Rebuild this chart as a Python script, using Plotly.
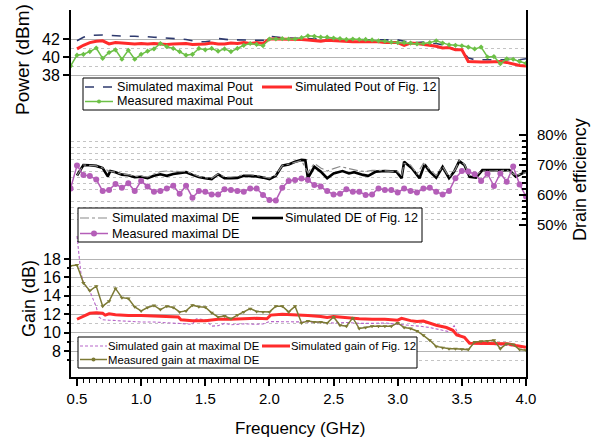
import plotly.graph_objects as go

# ---------------- data ----------------
F_MEAS = [0.45, 0.50, 0.55, 0.60, 0.65, 0.70, 0.75, 0.80, 0.85, 0.90, 0.95, 1.00,
          1.05, 1.10, 1.15, 1.20, 1.25, 1.30, 1.35, 1.40, 1.45, 1.50, 1.55, 1.60,
          1.65, 1.70, 1.75, 1.80, 1.85, 1.90, 1.95, 2.00, 2.05, 2.10, 2.15, 2.20,
          2.25, 2.30, 2.35, 2.40, 2.45, 2.50, 2.55, 2.60, 2.65, 2.70, 2.75, 2.80,
          2.85, 2.90, 2.95, 3.00, 3.05, 3.10, 3.15, 3.20, 3.25, 3.30, 3.35, 3.40,
          3.45, 3.50, 3.55, 3.60, 3.65, 3.70, 3.75, 3.80, 3.85, 3.90, 3.95, 4.00]

POUT_MEAS = [39.0, 40.2, 40.3, 40.6, 41.0, 39.85, 40.5, 40.8, 39.75, 40.75,
             39.75, 40.3, 40.65, 40.9, 41.5, 41.15, 40.95, 40.6, 40.2, 40.3,
             40.95, 40.8, 40.95, 40.65, 40.9, 40.6, 40.95, 41.3, 41.5, 41.4,
             41.25, 42.0, 42.0, 42.05, 42.0, 42.0, 42.15, 42.35, 42.3, 42.2,
             42.2, 42.1, 42.05, 41.95, 42.0, 41.95, 41.95, 41.9, 41.8, 41.75,
             41.65, 41.6, 41.6, 41.55, 41.45, 41.5, 41.6, 41.8, 41.55, 41.35,
             41.3, 41.25, 41.1, 40.9, 41.1, 40.0, 40.05, 39.25, 39.8, 39.75,
             39.5, 39.3]

F_SIM = [0.50, 0.55, 0.60, 0.65, 0.70, 0.75, 0.80, 0.85, 0.90, 0.95, 1.00,
         1.05, 1.10, 1.15, 1.20, 1.25, 1.30, 1.35, 1.40, 1.45, 1.50, 1.55, 1.60,
         1.65, 1.70, 1.75, 1.80, 1.85, 1.90, 1.95, 2.00, 2.05, 2.10, 2.15, 2.20,
         2.25, 2.30, 2.35, 2.40, 2.45, 2.50, 2.55, 2.60, 2.65, 2.70, 2.75, 2.80,
         2.85, 2.90, 2.95, 3.00, 3.05, 3.10, 3.15, 3.20, 3.25, 3.30, 3.35, 3.40,
         3.45, 3.50, 3.55, 3.60, 3.65, 3.70, 3.75, 3.80, 3.85, 3.90, 3.95, 4.00]

POUT_SIM_MAX = [41.8, 42.2, 42.4, 42.45, 42.45, 42.4, 42.35, 42.3, 42.3, 42.3,
                42.3, 42.25, 42.2, 42.15, 42.1, 42.05, 42.05, 41.95, 41.8, 41.7,
                41.7, 41.8, 42.05, 41.95, 41.9, 41.9, 41.9, 41.9, 41.85, 41.85,
                42.3, 42.2, 42.15, 42.1, 42.1, 42.1, 42.05, 42.0, 42.05, 42.0,
                41.95, 41.9, 41.9, 41.9, 41.95, 41.9, 41.9, 41.85, 41.85, 41.85,
                41.9, 41.75, 41.7, 41.6, 41.65, 41.5, 41.5, 41.35, 41.1, 40.85,
                40.75, 39.9, 39.7, 39.7, 39.75, 39.7, 39.7, 39.75, 39.7, 39.7,
                39.8]

POUT_SIM_FIG12 = [40.9, 41.3, 41.6, 41.75, 41.8, 41.45, 41.6, 41.55, 41.5, 41.45,
                  41.5, 41.45, 41.5, 41.45, 41.4, 41.45, 41.45, 41.5, 41.4, 41.4,
                  41.45, 41.55, 41.45, 41.45, 41.55, 41.5, 41.6, 41.5, 41.6, 41.5,
                  42.0, 42.0, 42.0, 41.95, 42.0, 41.95, 41.9, 41.85, 41.75, 41.85,
                  41.8, 41.8, 41.75, 41.7, 41.7, 41.7, 41.65, 41.7, 41.6, 41.6,
                  41.6, 41.3, 41.55, 41.5, 41.4, 41.35, 41.2, 41.0, 41.05, 40.8,
                  40.8, 39.5, 39.45, 39.45, 39.45, 39.45, 39.5, 39.4, 39.2, 39.05,
                  39.0]

DE_MEAS = [62.2, 69.8, 66.7, 66.3, 65.2, 61.3, 61.7, 63.7, 62.4, 63.9,
           61.3, 64.7, 62.8, 61.1, 61.3, 62.2, 63.1, 60.4, 63.1, 59.1,
           61.3, 61.1, 60.2, 60.2, 61.9, 61.7, 61.3, 61.1, 62.2, 62.2,
           60.0, 58.3, 58.2, 62.4, 64.7, 65.0, 65.5, 65.0, 63.3, 62.8,
           61.3, 60.2, 60.4, 61.9, 61.1, 61.1, 60.0, 60.2, 62.2, 61.7,
           61.7, 60.8, 62.2, 61.3, 60.8, 62.2, 62.4, 61.1, 60.2, 61.3,
           65.6, 68.0, 67.8, 66.9, 64.7, 67.1, 63.0, 67.2, 64.4, 69.5,
           63.5, 59.5]

F_DE_FIG12 = [0.50, 0.55, 0.60, 0.65, 0.70, 0.72, 0.74, 0.76, 0.80, 0.85, 0.90,
              0.95, 1.00, 1.05, 1.10, 1.15, 1.20, 1.25, 1.30, 1.35, 1.40, 1.45,
              1.50, 1.55, 1.60, 1.65, 1.70, 1.75, 1.80, 1.85, 1.90, 1.95, 2.00,
              2.05, 2.10, 2.15, 2.20, 2.25, 2.28, 2.30, 2.35, 2.40, 2.45, 2.50,
              2.57, 2.62, 2.66, 2.73, 2.77, 2.83, 2.90, 2.99, 3.03, 3.05, 3.11,
              3.17, 3.21, 3.25, 3.30, 3.35, 3.40, 3.44, 3.48, 3.52, 3.56, 3.61,
              3.66, 3.75, 3.87, 3.92, 4.00]
DE_FIG12 = [66.5, 70.0, 69.9, 69.7, 69.0, 67.6, 66.2, 68.0, 67.6, 66.8, 66.6,
            65.9, 66.1, 65.6, 66.4, 66.9, 66.4, 67.0, 67.4, 67.6, 66.7, 66.0,
            65.6, 65.3, 66.9, 65.6, 65.6, 65.7, 66.4, 66.4, 66.2, 65.8, 65.3,
            66.4, 69.8, 70.2, 71.1, 71.7, 71.6, 65.6, 69.4, 67.8, 65.6, 67.2,
            68.0, 67.2, 67.6, 66.7, 66.4, 67.8, 68.0, 67.8, 65.6, 71.1, 68.9,
            65.6, 70.2, 67.8, 65.8, 69.4, 65.6, 67.8, 71.3, 70.0, 66.1, 65.8,
            68.3, 68.3, 68.3, 66.1, 67.8]

F_DE_SIMMAX = [0.50, 0.55, 0.60, 0.65, 0.70, 0.75, 0.80, 0.85, 0.90, 0.95, 1.00,
               1.05, 1.10, 1.15, 1.20, 1.25, 1.30, 1.35, 1.40, 1.45, 1.50, 1.55,
               1.60, 1.65, 1.70, 1.75, 1.80, 1.85, 1.90, 1.95, 2.00, 2.05, 2.10,
               2.15, 2.20, 2.25, 2.30, 2.35, 2.40, 2.45, 2.50, 2.55, 2.60, 2.65,
               2.70, 2.75, 2.80, 2.85, 2.90, 2.95, 3.00, 3.03, 3.05, 3.10, 3.15,
               3.20, 3.25, 3.30, 3.35, 3.40, 3.45, 3.48, 3.52, 3.56, 3.60, 3.65,
               3.75, 3.85, 3.92, 4.00]
DE_SIMMAX = [66.5, 70.0, 69.9, 69.7, 69.0, 68.0, 67.6, 66.9, 66.8, 66.2, 66.3,
             66.0, 67.0, 67.8, 68.0, 67.8, 67.8, 67.9, 67.0, 66.2, 65.8, 65.6,
             67.0, 66.0, 66.0, 66.2, 66.8, 66.8, 66.5, 66.0, 65.6, 66.6, 69.8,
             70.3, 71.0, 71.5, 67.5, 70.5, 69.0, 68.0, 68.8, 69.5, 69.0, 68.5,
             68.0, 67.8, 68.2, 68.2, 68.0, 68.0, 67.8, 66.5, 70.5, 70.0, 67.0,
             70.5, 68.5, 66.5, 69.5, 66.0, 68.5, 71.6, 70.2, 66.5, 66.2, 68.0,
             68.0, 68.3, 66.5, 67.5]

GAIN_MEAS = [17.25, 17.35, 15.4, 14.55, 15.05, 12.87, 13.4, 14.8, 13.8, 13.7,
             12.8, 12.36, 12.73, 12.95, 12.5, 12.87, 12.73, 12.25, 12.36, 12.98,
             12.8, 12.75, 12.15, 11.7, 11.8, 11.5, 11.9, 12.25, 12.6, 12.3,
             12.25, 12.25, 12.87, 12.87, 12.25, 12.87, 11.05, 11.27, 11.16, 11.16,
             11.05, 11.7, 10.8, 10.7, 11.6, 10.44, 10.55, 10.7, 10.7, 10.7,
             10.7, 11.05, 10.55, 10.44, 10.18, 9.7, 9.16, 8.5, 8.36, 8.25,
             8.25, 8.2, 8.15, 8.98, 9.05, 9.1, 9.16, 8.25, 8.8, 8.7,
             8.15, 8.07]

F_GAIN_SIMMAX = [0.50, 0.53, 0.55, 0.58, 0.60, 0.63, 0.65, 0.67, 0.70, 0.75, 0.80,
                 0.85, 0.90, 1.00, 1.10, 1.20, 1.30, 1.35, 1.40, 1.43, 1.50, 1.55,
                 1.60, 1.65, 1.70, 1.80, 1.90, 1.95, 2.00, 2.10, 2.20, 2.30, 2.40,
                 2.50, 2.60, 2.70, 2.80, 2.90, 3.00, 3.10, 3.17, 3.25, 3.35, 3.40,
                 3.44, 3.47, 3.52, 3.57, 3.65, 3.75, 3.85, 3.95, 4.00]
GAIN_SIMMAX = [20.5, 16.5, 15.5, 14.8, 14.5, 13.5, 12.8, 11.7, 11.4, 11.35, 11.3,
               11.25, 11.2, 11.15, 11.15, 11.1, 11.05, 10.95, 10.9, 11.5, 11.4, 10.7,
               10.75, 11.0, 10.85, 10.95, 10.9, 10.95, 11.2, 11.2, 11.15, 11.15, 11.1,
               11.05, 11.1, 11.0, 11.0, 11.05, 10.9, 10.8, 10.7, 10.55, 10.3, 10.1,
               10.75, 9.9, 9.4, 8.9, 8.7, 8.7, 8.6, 8.5, 8.4]

F_GAIN_FIG12 = [0.50, 0.55, 0.60, 0.65, 0.70, 0.72, 0.75, 0.80, 0.90, 1.00, 1.10,
                1.20, 1.25, 1.29, 1.31, 1.40, 1.50, 1.60, 1.70, 1.80, 1.90, 1.98,
                2.01, 2.10, 2.20, 2.30, 2.40, 2.45, 2.50, 2.60, 2.70, 2.80, 2.90,
                3.00, 3.03, 3.10, 3.15, 3.20, 3.30, 3.38, 3.43, 3.46, 3.52, 3.56,
                3.65, 3.75, 3.85, 3.92, 3.97, 4.00]
GAIN_FIG12 = [11.45, 11.8, 12.1, 12.15, 12.1, 11.9, 12.05, 11.95, 11.85, 11.85, 11.8,
              11.8, 11.75, 11.7, 11.4, 11.3, 11.3, 11.45, 11.45, 11.5, 11.55, 11.5,
              11.9, 12.0, 11.95, 11.85, 11.75, 11.65, 11.75, 11.6, 11.5, 11.45, 11.45,
              11.35, 11.55, 11.3, 11.2, 11.25, 10.8, 10.55, 10.25, 9.75, 9.5, 8.85,
              8.85, 8.85, 8.8, 8.6, 8.45, 8.4]

X_TICKS = [0.5, 1.0, 1.5, 2.0, 2.5, 3.0, 3.5, 4.0]
POWER_TICKS = [38, 40, 42]
DE_TICKS = [50, 60, 70, 80]
GAIN_TICKS = [8, 10, 12, 14, 16, 18]

# ---------------- geometry helpers ----------------
W, H = 599, 439
ML, MR, MT, MB = 71, 73, 10, 62
PW, PH = W - ML - MR, H - MT - MB
BOT = H - MB


def px(x):
    return (x - ML) / PW


def py(y):
    return (BOT - y) / PH


FONT = "Liberation Sans, Arial, sans-serif"
NAVY = "#2e3a6e"
RED = "#ff2b2b"
GREEN = "#6cc046"
GREY = "#8a8a8a"
PURPLE = "#b45eb8"
PURPLE_L = "#b766c9"
OLIVE = "#7c7a35"
GRID = "#b3b3b3"
GRID_DOT = "#c4c4c4"

fig = go.Figure()

# Power panel
fig.add_trace(go.Scatter(x=F_SIM, y=POUT_SIM_MAX, mode="lines", yaxis="y",
                         line=dict(color=NAVY, width=1.6, dash="dash")))
fig.add_trace(go.Scatter(x=F_SIM, y=POUT_SIM_FIG12, mode="lines", yaxis="y",
                         line=dict(color=RED, width=3)))
fig.add_trace(go.Scatter(x=F_MEAS, y=POUT_MEAS, mode="lines+markers", yaxis="y",
                         line=dict(color=GREEN, width=1.5),
                         marker=dict(symbol="diamond", size=4, color=GREEN)))
# DE panel
fig.add_trace(go.Scatter(x=F_DE_FIG12, y=DE_FIG12, mode="lines", yaxis="y2",
                         line=dict(color="black", width=2.6)))
fig.add_trace(go.Scatter(x=F_DE_SIMMAX, y=DE_SIMMAX, mode="lines", yaxis="y2",
                         line=dict(color=GREY, width=1.2, dash="dashdot")))
fig.add_trace(go.Scatter(x=F_MEAS, y=DE_MEAS, mode="lines+markers", yaxis="y2",
                         line=dict(color=PURPLE, width=1.5),
                         marker=dict(symbol="circle", size=6, color=PURPLE)))
# Gain panel
fig.add_trace(go.Scatter(x=F_GAIN_SIMMAX, y=GAIN_SIMMAX, mode="lines", yaxis="y3",
                         line=dict(color=PURPLE_L, width=1.1, dash="3px,2px")))
fig.add_trace(go.Scatter(x=F_GAIN_FIG12, y=GAIN_FIG12, mode="lines", yaxis="y3",
                         line=dict(color=RED, width=3)))
fig.add_trace(go.Scatter(x=F_MEAS, y=GAIN_MEAS, mode="lines+markers", yaxis="y3",
                         line=dict(color=OLIVE, width=1.5),
                         marker=dict(symbol="triangle-down", size=4, color=OLIVE)))

# axis ranges derived from the pixel geometry of the figure
X0 = 0.5 - 6 / (449 / 3.5)
P_RANGE = [38 - (BOT - 75) / 9.0, 42 + (39 - MT) / 9.0]
D_RANGE = [70 - (BOT - 165) / 3.0, 70 + (165 - MT) / 3.0]
G_RANGE = [8 - (BOT - 351) / 9.2, 18 + (259 - MT) / 9.2]

x_minor = [round(0.45 + 0.05 * i, 2) for i in range(72)]
x_minor = [v for v in x_minor if v not in X_TICKS and v > X0]

fig.update_layout(
    width=W, height=H, showlegend=False,
    margin=dict(l=ML, r=MR, t=MT, b=MB, pad=0),
    paper_bgcolor="white", plot_bgcolor="white",
    font=dict(family=FONT, size=15, color="black"),
    xaxis=dict(range=[X0, 4.0], tickmode="array", tickvals=X_TICKS,
               ticktext=[f"{v:.1f}" for v in X_TICKS],
               ticks="outside", ticklen=7, tickwidth=1.5, tickcolor="black",
               showline=True, linecolor="black", linewidth=2, showgrid=False,
               zeroline=False, tickfont=dict(size=15),
               minor=dict(tickmode="array", tickvals=x_minor, ticks="outside",
                          ticklen=4, tickcolor="black", tickwidth=1, showgrid=False)),
    yaxis=dict(range=P_RANGE, tickmode="array", tickvals=POWER_TICKS,
               ticks="outside", ticklen=6, tickwidth=1.5, tickcolor="black",
               showline=True, linecolor="black", linewidth=2,
               showgrid=True, gridcolor=GRID, gridwidth=1, zeroline=False,
               tickfont=dict(size=16),
               minor=dict(tickmode="array", tickvals=[39, 41], ticks="",
                          showgrid=True, gridcolor=GRID_DOT, griddash="dot")),
    yaxis2=dict(range=D_RANGE, overlaying="y", side="right", anchor="x",
                tickmode="array", tickvals=DE_TICKS,
                ticktext=[f"{v}%" for v in DE_TICKS],
                ticks="inside", ticklen=7, tickwidth=1.5, tickcolor="black",
                ticklabelstandoff=6,
                showline=True, linecolor="black", linewidth=2,
                showgrid=False, zeroline=False, tickfont=dict(size=15),
                minor=dict(tickmode="array",
                           tickvals=[v for v in range(52, 80, 2) if v not in DE_TICKS],
                           ticks="inside", ticklen=4, tickcolor="black",
                           showgrid=True, gridcolor=GRID_DOT, griddash="dot")),
    yaxis4=dict(range=D_RANGE, overlaying="y", side="right", anchor="x",
                tickmode="array", tickvals=[60, 70, 80], showticklabels=False,
                ticks="", showline=False, showgrid=True, gridcolor=GRID,
                gridwidth=1, zeroline=False,
                minor=dict(tickmode="array", tickvals=list(range(51, 80, 2)),
                           ticks="inside", ticklen=3, tickcolor="black",
                           showgrid=False)),
    yaxis5=dict(range=D_RANGE, overlaying="y", side="left", anchor="x",
                tickmode="array", tickvals=[69], showticklabels=False,
                ticks="outside", ticklen=5, tickwidth=1.5, tickcolor="black",
                showline=False, showgrid=False, zeroline=False),
    yaxis3=dict(range=G_RANGE, overlaying="y", side="left", anchor="x",
                tickmode="array", tickvals=GAIN_TICKS,
                ticks="outside", ticklen=6, tickwidth=1.5, tickcolor="black",
                showline=False, showgrid=True, gridcolor=GRID, gridwidth=1,
                zeroline=False, tickfont=dict(size=16),
                minor=dict(tickmode="array", tickvals=[7, 9, 11, 13, 15, 17],
                           ticks="outside", ticklen=3, tickcolor="black",
                           showgrid=True, gridcolor=GRID_DOT, griddash="dot")),
)

shapes = []
annotations = []


def box(x0, y0, x1, y1):
    shapes.append(dict(type="rect", xref="paper", yref="paper",
                       x0=px(x0), x1=px(x1), y0=py(y1), y1=py(y0),
                       fillcolor="white", line=dict(color="black", width=1),
                       layer="above"))


def sample(xa, xb, y, color, width, dash="solid"):
    shapes.append(dict(type="line", xref="paper", yref="paper",
                       x0=px(xa), x1=px(xb), y0=py(y), y1=py(y),
                       line=dict(color=color, width=width, dash=dash),
                       layer="above"))


def dot(xc, yc, r, color):
    shapes.append(dict(type="circle", xref="paper", yref="paper",
                       x0=px(xc - r), x1=px(xc + r), y0=py(yc + r), y1=py(yc - r),
                       fillcolor=color, line=dict(color=color, width=0),
                       layer="above"))


def label(x, y, text, size):
    annotations.append(dict(x=px(x), y=py(y), xref="paper", yref="paper",
                            text=text, showarrow=False, xanchor="left",
                            yanchor="middle", font=dict(size=size, family=FONT)))


# legend: power
box(83, 78, 439, 110)
sample(85, 113, 87, NAVY, 1.6, "dash")
label(115, 87, "Simulated maximal Pout", 12.6)
sample(262, 292, 87, RED, 3)
label(293, 87, "Simulated Pout of Fig. 12", 12.6)
sample(85, 113, 101.5, GREEN, 1.5)
dot(99, 101.5, 2, GREEN)
label(115, 101.5, "Measured maximal Pout", 12.6)

# legend: DE
box(78, 208, 422, 242)
sample(80, 108, 218, GREY, 1.2, "dashdot")
label(110, 218, "Simulated maximal DE", 12.6)
sample(252, 283, 218, "black", 2.6)
label(283, 218, "Simulated DE of Fig. 12", 12.6)
sample(80, 108, 233.5, PURPLE, 1.5)
dot(94, 233.5, 3, PURPLE)
label(110, 233.5, "Measured maximal DE", 12.6)

# legend: gain
box(78, 337, 417, 368)
sample(80, 107, 346, PURPLE_L, 1.1, "3px,2px")
label(106, 346, "Simulated gain at maximal DE", 11.3)
sample(262, 290, 346, RED, 3)
label(289, 346, "Simulated gain of Fig. 12", 11.3)
sample(80, 107, 359.5, OLIVE, 1.5)
dot(93.5, 359.5, 2, OLIVE)
label(106, 359.5, "Measured gain at maximal DE", 11.3)

# axis titles
annotations.append(dict(x=px(22), y=py(60), xref="paper", yref="paper",
                        text="Power (dBm)", textangle=-90, showarrow=False,
                        xanchor="center", yanchor="middle", font=dict(size=19)))
annotations.append(dict(x=px(29), y=py(299), xref="paper", yref="paper",
                        text="Gain (dB)", textangle=-90, showarrow=False,
                        xanchor="center", yanchor="middle", font=dict(size=18)))
annotations.append(dict(x=px(580), y=py(180), xref="paper", yref="paper",
                        text="Drain efficiency", textangle=-90, showarrow=False,
                        xanchor="center", yanchor="middle", font=dict(size=18)))
annotations.append(dict(x=px(300), y=py(428), xref="paper", yref="paper",
                        text="Frequency (GHz)", showarrow=False,
                        xanchor="center", yanchor="middle", font=dict(size=17)))

fig.update_layout(shapes=shapes, annotations=annotations)

fig.write_html("out.html")
